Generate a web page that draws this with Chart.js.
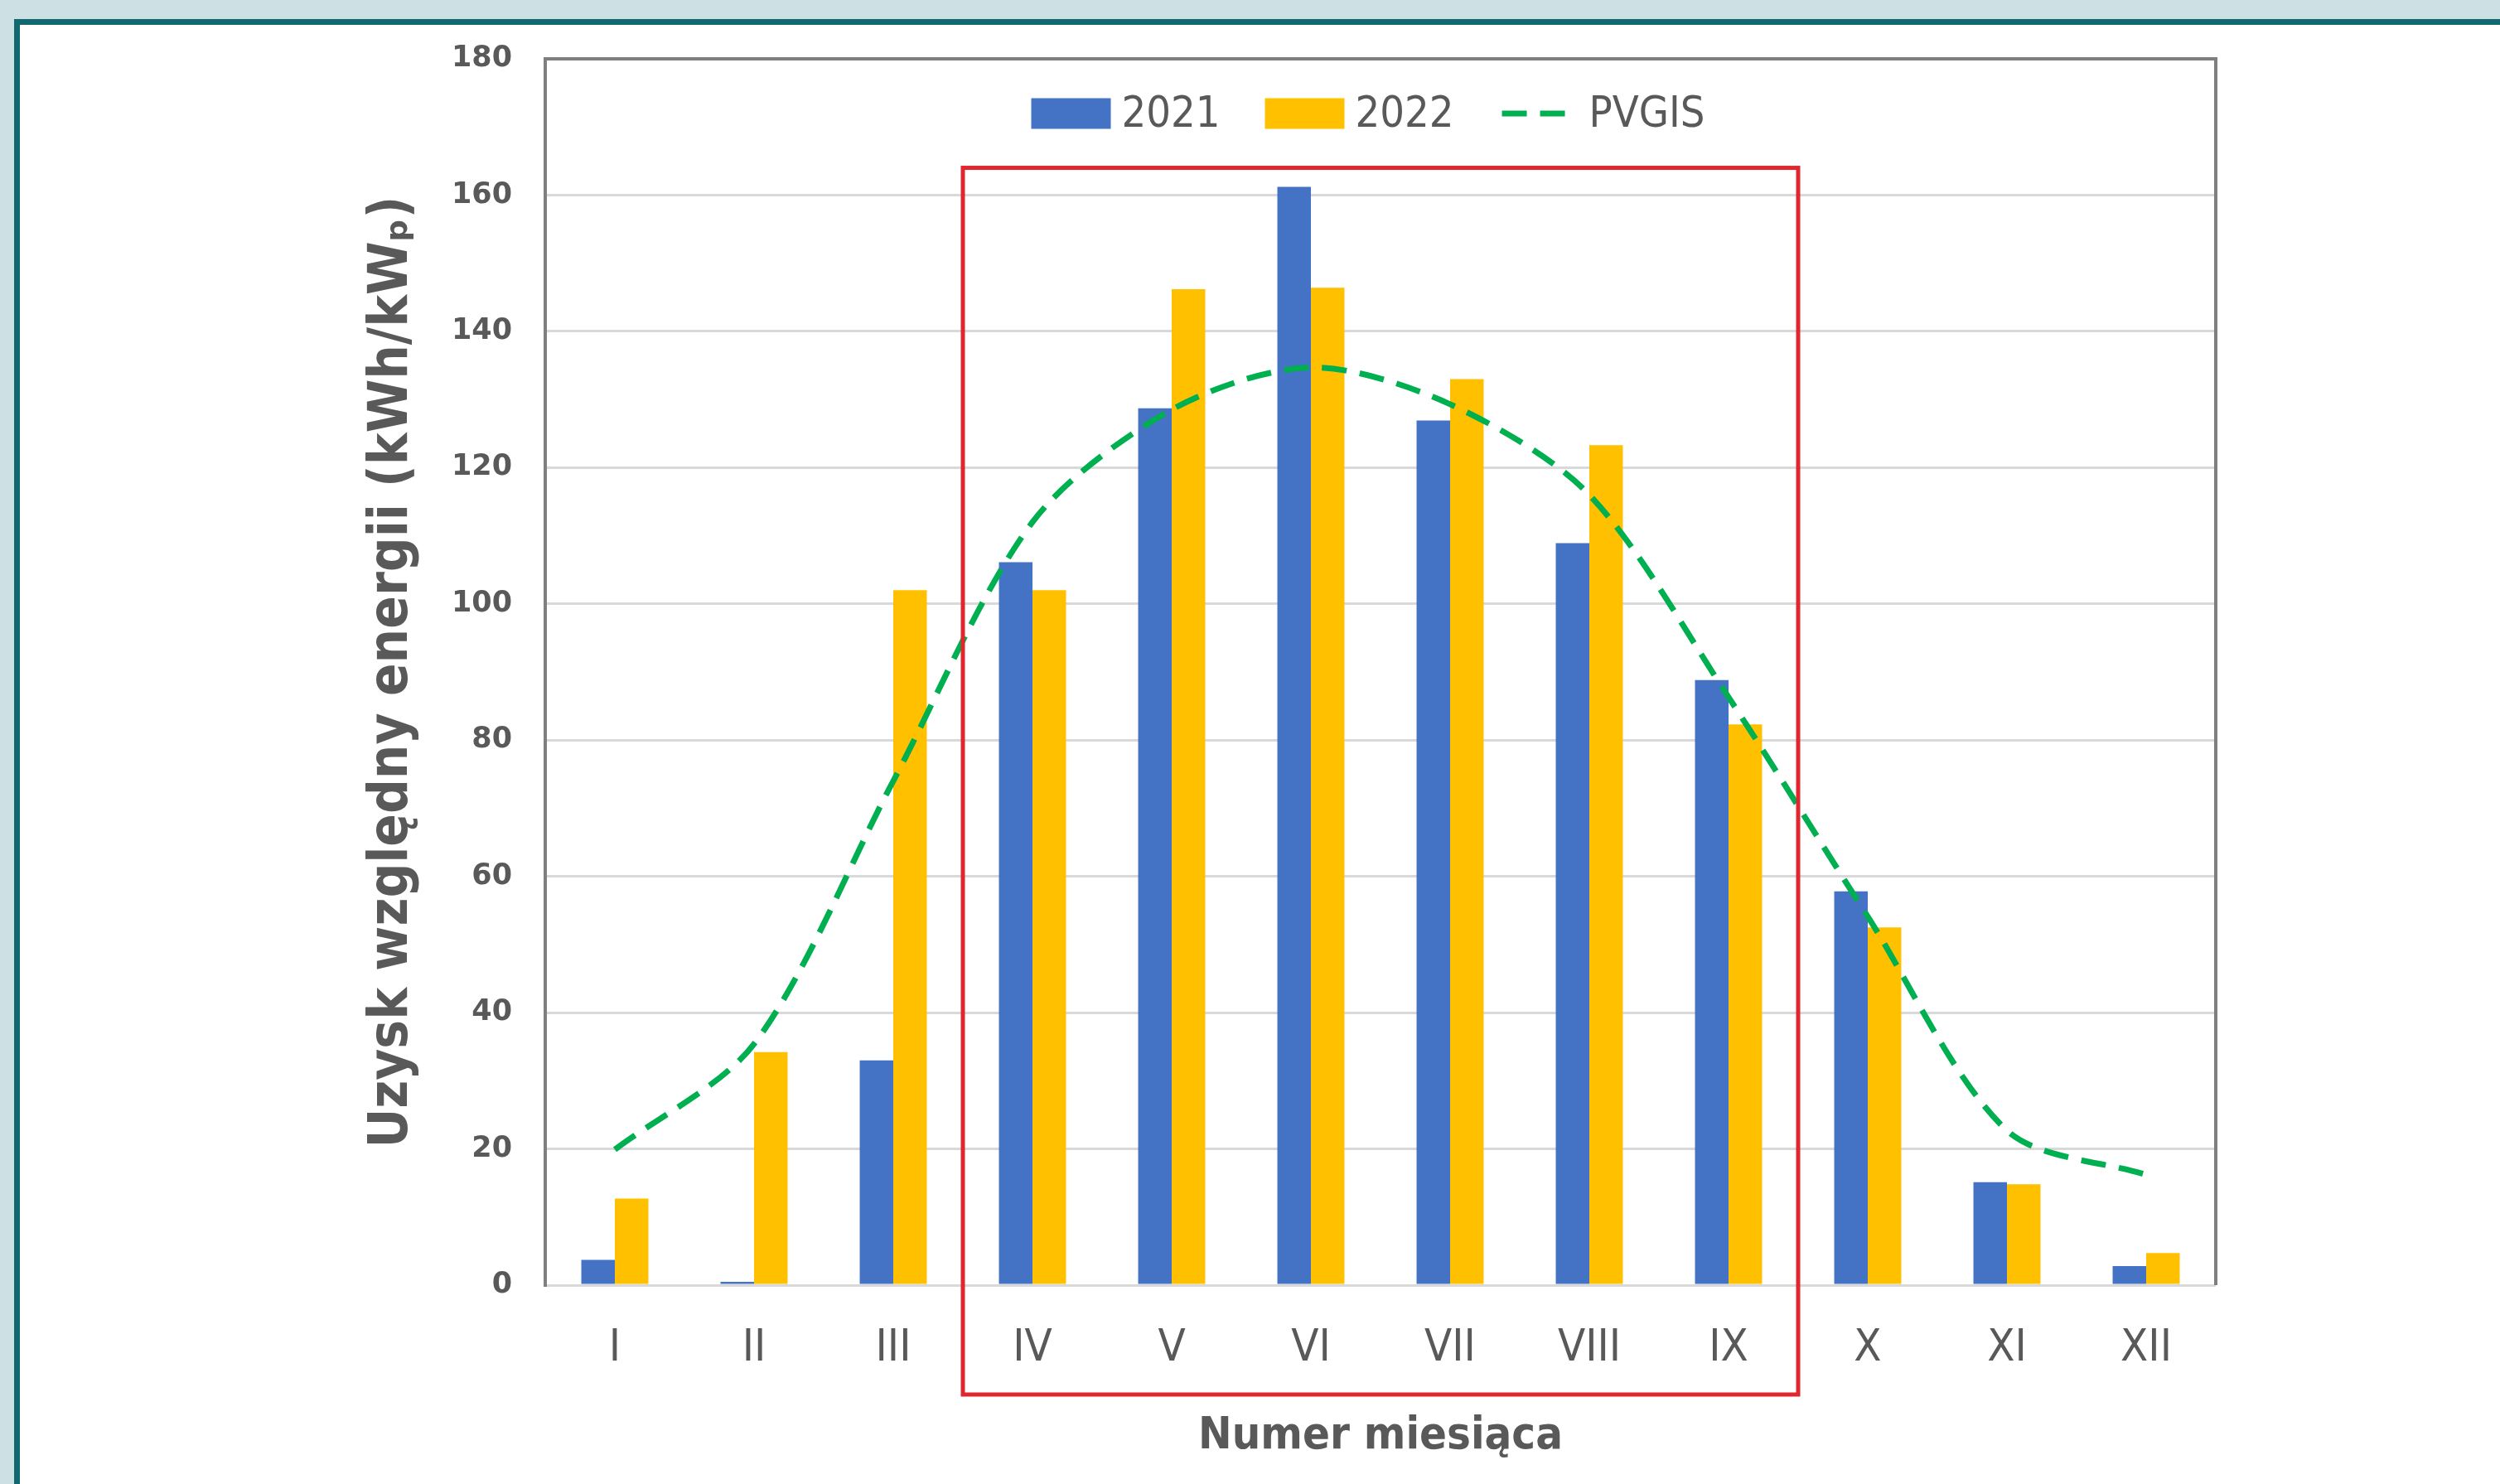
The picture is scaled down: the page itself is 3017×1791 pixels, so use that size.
<!DOCTYPE html>
<html>
<head>
<meta charset="utf-8">
<script src="https://cdn.jsdelivr.net/npm/chart.js@4.4.1/dist/chart.umd.min.js"></script>
<style>
  html, body { margin: 0; padding: 0; }
  body { width: 3017px; height: 1791px; background: #cde0e3; position: relative; overflow: hidden; }
  #frame { position: absolute; left: 17px; top: 23px; right: 0; bottom: -10px; background: #116870; }
  #panel { position: absolute; left: 24px; top: 30px; width: 2993px; height: 1761px; background: #ffffff; }
  #chart { display: block; }
</style>
</head>
<body>
<div id="frame"></div>
<div id="panel"><canvas id="chart" width="2993" height="1761"></canvas></div>
<script>
const months = ['I', 'II', 'III', 'IV', 'V', 'VI', 'VII', 'VIII', 'IX', 'X', 'XI', 'XII'];
const yield2021 = [3.7, 0.5, 33.0, 106.1, 128.7, 161.2, 126.9, 108.9, 88.8, 57.8, 15.1, 2.8];
const yield2022 = [12.7, 34.2, 102.0, 102.0, 146.2, 146.4, 133.0, 123.3, 82.3, 52.5, 14.8, 4.7];
const pvgis = [19.9, 35.4, 74.0, 112.0, 128.5, 134.7, 129.3, 116.0, 86.3, 54.1, 22.7, 16.2];

// red frame round the summer months
const highlightFrom = 'IV';
const highlightTo = 'IX';
const highlightTop = 164;

const narrow = "'DejaVu Sans Condensed', 'DejaVu Sans', sans-serif";
const textColour = '#595959';

// plot box (top + right edge) and the red frame
const plotFrame = {
    id: 'plotFrame',
    afterDraw(chart) {
        const ctx = chart.ctx;
        const area = chart.chartArea;
        const x = chart.scales.x;
        const y = chart.scales.y;

        ctx.save();
        ctx.strokeStyle = '#7f7f7f';
        ctx.lineWidth = 4;
        ctx.beginPath();
        ctx.moveTo(area.left, area.top);
        ctx.lineTo(area.right, area.top);
        ctx.lineTo(area.right, area.bottom);
        ctx.stroke();

        const i0 = months.indexOf(highlightFrom);
        const i1 = months.indexOf(highlightTo);
        const left = (x.getPixelForValue(i0 - 1) + x.getPixelForValue(i0)) / 2;
        const right = (x.getPixelForValue(i1) + x.getPixelForValue(i1 + 1)) / 2;
        const top = y.getPixelForValue(highlightTop);
        const bottom = area.bottom + 132;
        ctx.strokeStyle = '#e0262f';
        ctx.lineWidth = 5;
        ctx.strokeRect(left, top, right - left, bottom - top);
        ctx.restore();
    }
};

// one-row legend inside the plot, built from the datasets
const innerLegend = {
    id: 'innerLegend',
    afterDatasetsDraw(chart) {
        const ctx = chart.ctx;
        const area = chart.chartArea;
        const boxW = 96, boxH = 37, gap = 13, itemGap = 54;

        ctx.save();
        ctx.font = '52px ' + narrow;
        const items = chart.data.datasets.map(ds => ({
            ds: ds,
            width: boxW + gap + ctx.measureText(ds.label).width
        }));
        const total = items.reduce((s, it) => s + it.width, 0) + itemGap * (items.length - 1);
        let cx = (area.left + area.right) / 2 - total / 2 - 15;
        const cy = area.top + 66;

        items.forEach(it => {
            const ds = it.ds;
            if (ds.type === 'line') {
                ctx.strokeStyle = ds.borderColor;
                ctx.lineWidth = ds.borderWidth;
                ctx.setLineDash(ds.borderDash);
                ctx.beginPath();
                ctx.moveTo(cx + 4, cy);
                ctx.lineTo(cx + boxW - 10, cy);
                ctx.stroke();
                ctx.setLineDash([]);
            } else {
                ctx.fillStyle = ds.backgroundColor;
                ctx.fillRect(cx, cy - boxH / 2, boxW, boxH);
            }
            ctx.fillStyle = textColour;
            ctx.textBaseline = 'middle';
            ctx.fillText(ds.label, cx + boxW + gap, cy + 2);
            cx += it.width + itemGap;
        });
        ctx.restore();
    }
};

new Chart(document.getElementById('chart'), {
    type: 'bar',
    data: {
        labels: months,
        datasets: [
            {
                label: '2021',
                data: yield2021,
                backgroundColor: '#4472c4',
                borderWidth: 0,
                order: 0
            },
            {
                label: '2022',
                data: yield2022,
                backgroundColor: '#ffc000',
                borderWidth: 0,
                order: 0
            },
            {
                type: 'line',
                label: 'PVGIS',
                data: pvgis,
                borderColor: '#00b050',
                backgroundColor: '#00b050',
                borderWidth: 7,
                borderDash: [30, 16],
                tension: 0.3,
                pointRadius: 0,
                fill: false,
                order: -1
            }
        ]
    },
    options: {
        responsive: false,
        devicePixelRatio: 1,
        animation: false,
        datasets: {
            bar: { categoryPercentage: 0.482, barPercentage: 1 }
        },
        layout: { padding: { left: 407, right: 343, top: 41, bottom: 25 } },
        scales: {
            x: {
                grid: { display: false, drawTicks: false },
                border: { display: false },
                ticks: { color: textColour, padding: 45, font: { family: narrow, size: 54 } },
                title: {
                    display: true,
                    text: 'Numer miesiąca',
                    color: textColour,
                    padding: 0,
                    font: { family: narrow, size: 54, weight: 'bold' }
                },
                afterFit(scale) {
                    scale.height = 215;
                    scale.paddingTop = 0;
                }
            },
            y: {
                min: 0,
                max: 180,
                grid: { color: '#d9d9d9', lineWidth: 3, drawTicks: false },
                border: { color: '#7f7f7f', width: 4 },
                ticks: {
                    stepSize: 20,
                    color: textColour,
                    padding: 40,
                    font: { family: "'DejaVu Sans', sans-serif", size: 35, weight: 'bold' }
                },
                title: {
                    display: true,
                    text: 'Uzysk względny energii (kWh/kWₚ)',
                    color: textColour,
                    padding: 4,
                    font: { family: narrow, size: 65, weight: 'bold' }
                },
                afterFit(scale) {
                    scale.width = 227;
                    scale.paddingTop = 0;
                }
            }
        },
        plugins: {
            tooltip: { enabled: false },
            legend: { display: false }
        }
    },
    plugins: [plotFrame, innerLegend]
});
</script>
</body>
</html>
